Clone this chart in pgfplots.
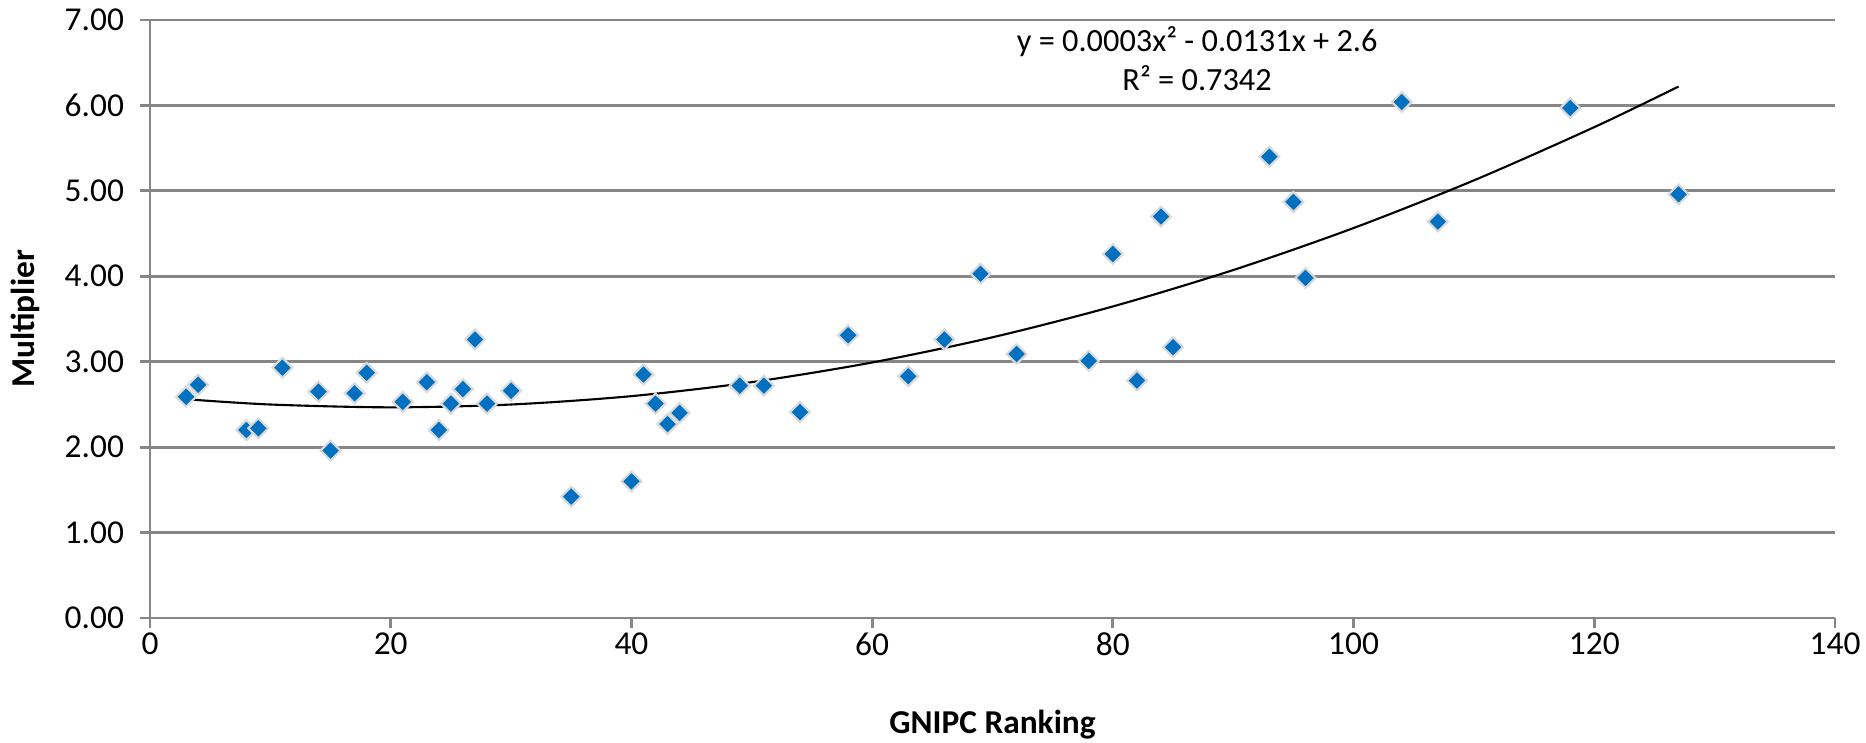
\documentclass[border=0pt]{standalone}
\usepackage{fontspec}
\setmainfont{Carlito}
\usepackage{pgfplots}
\usepackage{pgfplotstable}
\pgfplotsset{compat=1.18}
\definecolor{ptblue}{HTML}{0070C0}
\definecolor{gridgray}{HTML}{868686}

% GNIPC ranking vs multiplier
\pgfplotstableread{
x y
3 2.59
4 2.73
8 2.20
9 2.22
11 2.93
14 2.65
15 1.96
17 2.63
18 2.87
21 2.53
23 2.76
24 2.20
25 2.51
26 2.68
27 3.26
28 2.51
30 2.66
35 1.42
40 1.60
41 2.85
42 2.51
43 2.27
44 2.40
49 2.72
51 2.72
54 2.41
58 3.31
63 2.83
66 3.26
69 4.03
72 3.09
78 3.01
80 4.26
82 2.78
84 4.70
85 3.17
93 5.40
95 4.87
96 3.98
104 6.04
107 4.64
118 5.97
127 4.96
}\pts

% polynomial trendline
\pgfplotstableread{
x y
3 2.561
10 2.499
20 2.466
30 2.499
40 2.597
50 2.761
60 2.991
70 3.286
80 3.647
90 4.073
100 4.565
110 5.123
120 5.746
127 6.221
}\trend

\begin{document}
\fontsize{9.5}{11}\selectfont
\begin{tikzpicture}
\begin{axis}[
  scale only axis, width=16.85cm, height=5.98cm,
  xmin=0, xmax=140, ymin=0, ymax=7,
  xtick={0,20,...,140}, ytick={0,...,7},
  axis x line*=bottom, axis y line*=left,
  axis line style={gridgray, line width=0.8pt},
  ymajorgrids, major grid style={gridgray, line width=0.8pt},
  tick align=outside, major tick length=1mm,
  tick style={gridgray, line width=0.8pt},
  /pgf/number format/assume math mode=true,
  ticklabel style={font=\fontsize{9.5}{11}\selectfont},
  xticklabel style={yshift=2pt},
  yticklabel style={xshift=-1.2pt, /pgf/number format/.cd, fixed, fixed zerofill, precision=2},
  xlabel={GNIPC Ranking}, ylabel={Multiplier},
  label style={font=\bfseries\fontsize{9.5}{11}\selectfont},
  xlabel style={at={(axis description cs:0.5,-0.178)}, anchor=center},
  ylabel style={at={(axis description cs:-0.0742,0.5)}, anchor=center},
  clip=false,
]
\addplot[only marks, mark=square*, mark size=2pt,
  mark options={rotate=45, fill=ptblue, draw=black!15, line width=0.6pt}]
  table {\pts};
\addplot[black, line width=0.6pt, smooth, no marks] table {\trend};
\node[align=center, font=\fontsize{9.2}{11}\selectfont] at (axis cs:87,6.55)
  {y = 0.0003x² - 0.0131x + 2.6\\R² = 0.7342};
\end{axis}
\pgfresetboundingbox
\path[use as bounding box] (-1.50cm,-1.25cm) rectangle (17.16cm,6.18cm);
\end{tikzpicture}
\end{document}
